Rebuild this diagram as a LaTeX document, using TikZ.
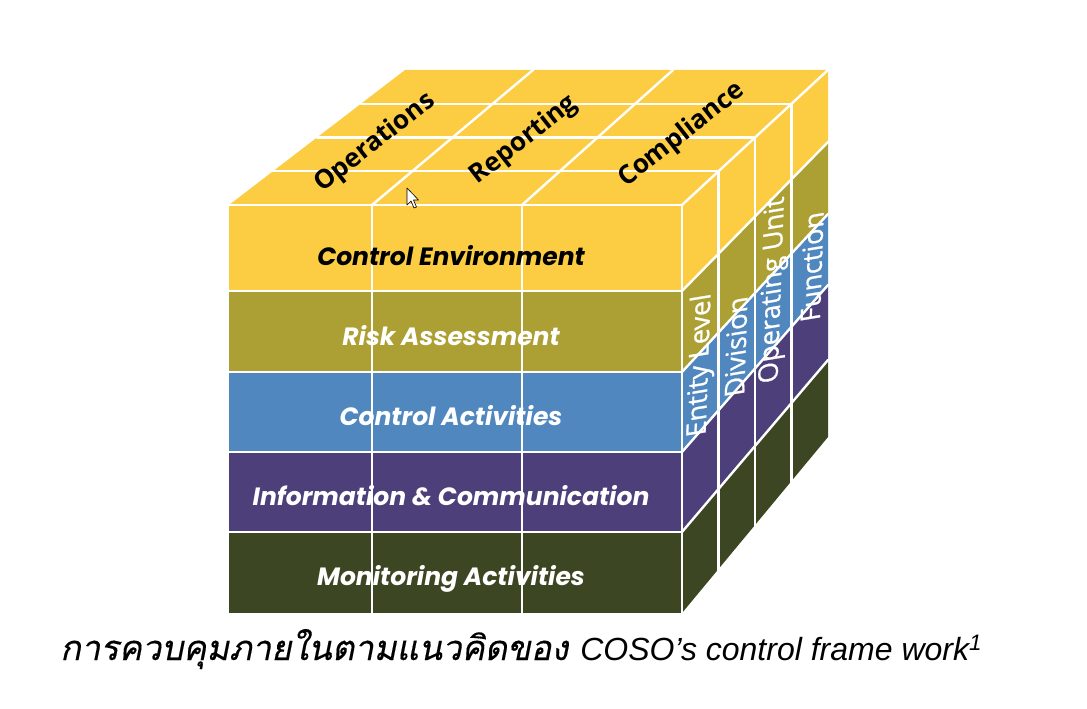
\documentclass[tikz,border=0pt]{standalone}
\usepackage{fontspec}
\setmainfont{Liberation Sans}
\newfontfamily\thaifont[Script=Thai,FakeSlant=0.2,FakeBold=0.35]{Loma}
\newfontfamily\gfont{Poppins}
\newfontfamily\ofont{Open Sans}
\newfontfamily\sfont[FakeBold=0.8]{Open Sans}
\definecolor{cy}{RGB}{252,205,66}
\definecolor{co}{RGB}{172,160,52}
\definecolor{cb}{RGB}{80,135,190}
\definecolor{cp}{RGB}{77,64,122}
\definecolor{cg}{RGB}{60,70,34}
\begin{document}
\begin{tikzpicture}[x=1pt,y=-1pt,
  gridline/.style={white,line width=2.4pt,line cap=round},
  fronttxt/.style={font=\gfont\bfseries\itshape\fontsize{25}{25}\selectfont,text=white,anchor=base,inner sep=0pt},
  toptxt/.style={font=\ofont\bfseries\fontsize{26}{26}\selectfont,text=black,rotate=38,inner sep=0pt},
  sidetxt/.style={font=\sfont\fontsize{27}{27}\selectfont,text=white,rotate=88,xslant=-0.2,inner sep=0pt}]
\useasboundingbox (0,0) rectangle (1087,709);
% front face bands
\fill[cy] (229,205) rectangle (682,291);
\fill[co] (229,291) rectangle (682,372);
\fill[cb] (229,372) rectangle (682,452);
\fill[cp] (229,452) rectangle (682,532);
\fill[cg] (229,532) rectangle (682,613);
% top face
\fill[cy] (229,205) -- (682,205) -- (828,70) -- (405,70) -- cycle;
% right face bands
\fill[cy] (682,205) -- (828,70) -- (828,142) -- (682,291) -- cycle;
\fill[co] (682,291) -- (828,142) -- (828,214) -- (682,372) -- cycle;
\fill[cb] (682,372) -- (828,214) -- (828,285) -- (682,452) -- cycle;
\fill[cp] (682,452) -- (828,285) -- (828,360) -- (682,532) -- cycle;
\fill[cg] (682,532) -- (828,360) -- (828,437) -- (682,613) -- cycle;
% front grid
\foreach \y in {205,291,372,452,532}
  \draw[gridline] (229,\y) -- (682,\y);
\foreach \x in {372,522}
  \draw[gridline] (\x,205) -- (\x,613);
% top grid
\draw[gridline] (273,171.25) -- (718.5,171.25);
\draw[gridline] (317,137.5) -- (755,137.5);
\draw[gridline] (361,103.75) -- (791.5,103.75);
\draw[gridline] (372,205) -- (533,70);
\draw[gridline] (522,205) -- (673,70);
\draw[gridline] (682,205) -- (828,70);
% right grid
\draw[gridline] (682,205) -- (682,613);
\draw[gridline] (718.5,171.25) -- (718.5,602);
\draw[gridline] (755,137.5) -- (755,591);
\draw[gridline] (791.5,103.75) -- (791.5,580);
\draw[gridline] (682,291) -- (828,142);
\draw[gridline] (682,372) -- (828,214);
\draw[gridline] (682,452) -- (828,285);
\draw[gridline] (682,532) -- (828,360);
% front labels
\node[fronttxt,text=black] (ce) at (451,265) {Control Environment};
\node[fronttxt] (ra) at (451,345) {Risk Assessment};
\node[fronttxt] (ca) at (451,425) {Control Activities};
\node[fronttxt] (ic) at (451,505) {Information \& Communication};
\node[fronttxt] (ma) at (451,585) {Monitoring Activities};
% top labels
\node[toptxt] (op) at (375,143) {Operations};
\node[toptxt] (rp) at (524,140) {Reporting};
\node[toptxt] (cm) at (682,135) {Compliance};
% side labels
\node[sidetxt] (el) at (701,365) {Entity Level};
\node[sidetxt] (dv) at (736,347) {Division};
\node[sidetxt] (ou) at (774,290) {Operating Unit};
\node[sidetxt] (fn) at (812,267) {Function};
% cursor
\draw[black,line width=0.6pt,fill=white,line join=round] (407,188) -- (407,205) -- (411,201) -- (414,208) -- (416.5,207) -- (413.5,200) -- (418.5,200) -- cycle;
% caption
\node[anchor=base west,inner sep=0pt,font=\fontsize{32}{32}\selectfont\itshape] (cap) at (60,660)
  {{\thaifont\upshape\fontsize{34.5}{34.5}\selectfont การควบคุมภายในตามแนวคิดของ}\hspace{12pt}COSO’s control frame work\textsuperscript{1}};
\end{tikzpicture}
\end{document}
